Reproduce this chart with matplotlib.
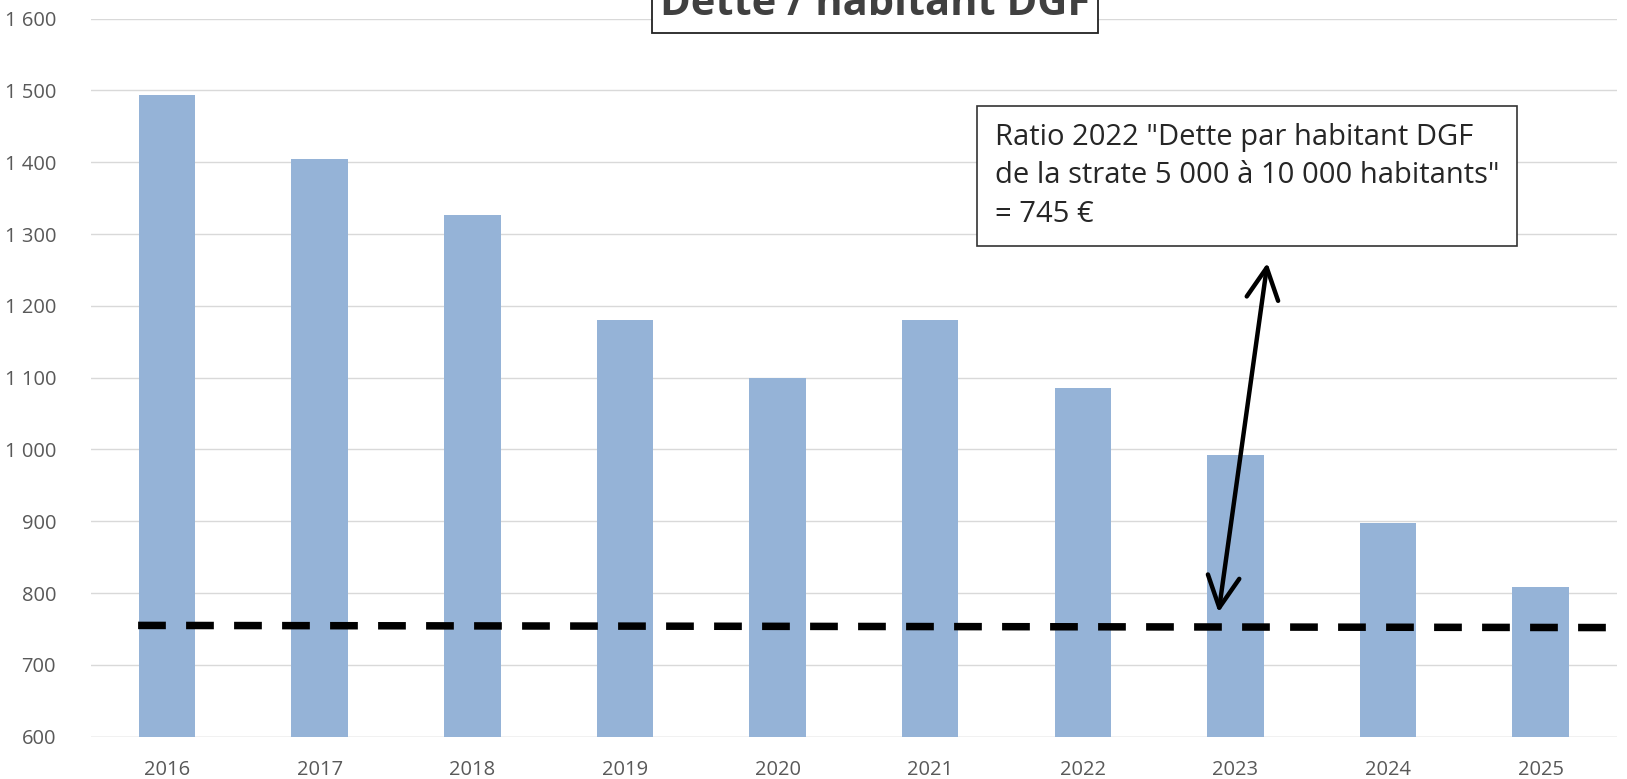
import matplotlib.pyplot as plt
import numpy as np

# Dette par habitant DGF (EUR)
annees = ['2016', '2017', '2018', '2019', '2020', '2021', '2022', '2023', '2024', '2025']
dette = [1494, 1405, 1327, 1180, 1100, 1180, 1086, 992, 898, 808]
ratio_strate = [755, 752]  # ligne de reference, tracee a la main (debut, fin)
yticks = [600, 700, 800, 900, 1000, 1100, 1200, 1300, 1400, 1500, 1600]

fig = plt.figure(figsize=(16.27, 7.79), dpi=100)
ax = fig.add_axes([0.0558, 0.0543, 0.938, 0.9217])

x = np.arange(len(annees))
ax.bar(x, [d - 600 for d in dette], bottom=600, width=0.37, color='#95b3d7', zorder=2)

ax.set_xlim(-0.5, 9.5)
ax.set_ylim(600, 1600)
ax.set_yticks(yticks)
ax.set_yticklabels(['{:,}'.format(v).replace(',', ' ') for v in yticks])
ax.set_xticks(x)
ax.set_xticklabels(annees)
for lab in ax.get_xticklabels() + ax.get_yticklabels():
    lab.set_family('Open Sans')
ax.tick_params(length=0, labelsize=14.5, labelcolor='#595959')
ax.tick_params(axis='y', pad=25)
ax.tick_params(axis='x', pad=17)
ax.yaxis.grid(True, color='#d9d9d9', lw=1, zorder=0)
for s in ax.spines.values():
    s.set_visible(False)
ax.axhline(600, color='#d9d9d9', lw=1, zorder=1)

# dashed reference line
ln, = ax.plot([-0.19, 9.43], ratio_strate, color='black', lw=5.4, zorder=3)
ln.set_dashes((3.7, 2.7))

# double arrow
ax.annotate('', xy=(6.89, 773), xytext=(7.21, 1260),
            arrowprops=dict(arrowstyle='<->,head_length=0.75,head_width=0.38', color='black', lw=3.2,
                            mutation_scale=30, shrinkA=0, shrinkB=0), zorder=4)

# annotation box
fig.text(0.6115, 0.842,
         'Ratio 2022 "Dette par habitant DGF\nde la strate 5 000 à 10 000 habitants"\n= 745 €',
         fontsize=21, family='Open Sans', color='#262626', va='top', ha='left',
         linespacing=1.42,
         bbox=dict(boxstyle='square,pad=0.6', facecolor='white', edgecolor='#333333', lw=1.2))

# title (clipped at the top, as in the original)
fig.text(0.5378, 0.981, 'Dette / habitant DGF', fontsize=30, fontweight='bold',
         family='Open Sans', color='#404040', ha='center', va='baseline',
         bbox=dict(boxstyle='square,pad=0.2', facecolor='white', edgecolor='#222222', lw=1.3))

fig.savefig('out.png', dpi=100)
